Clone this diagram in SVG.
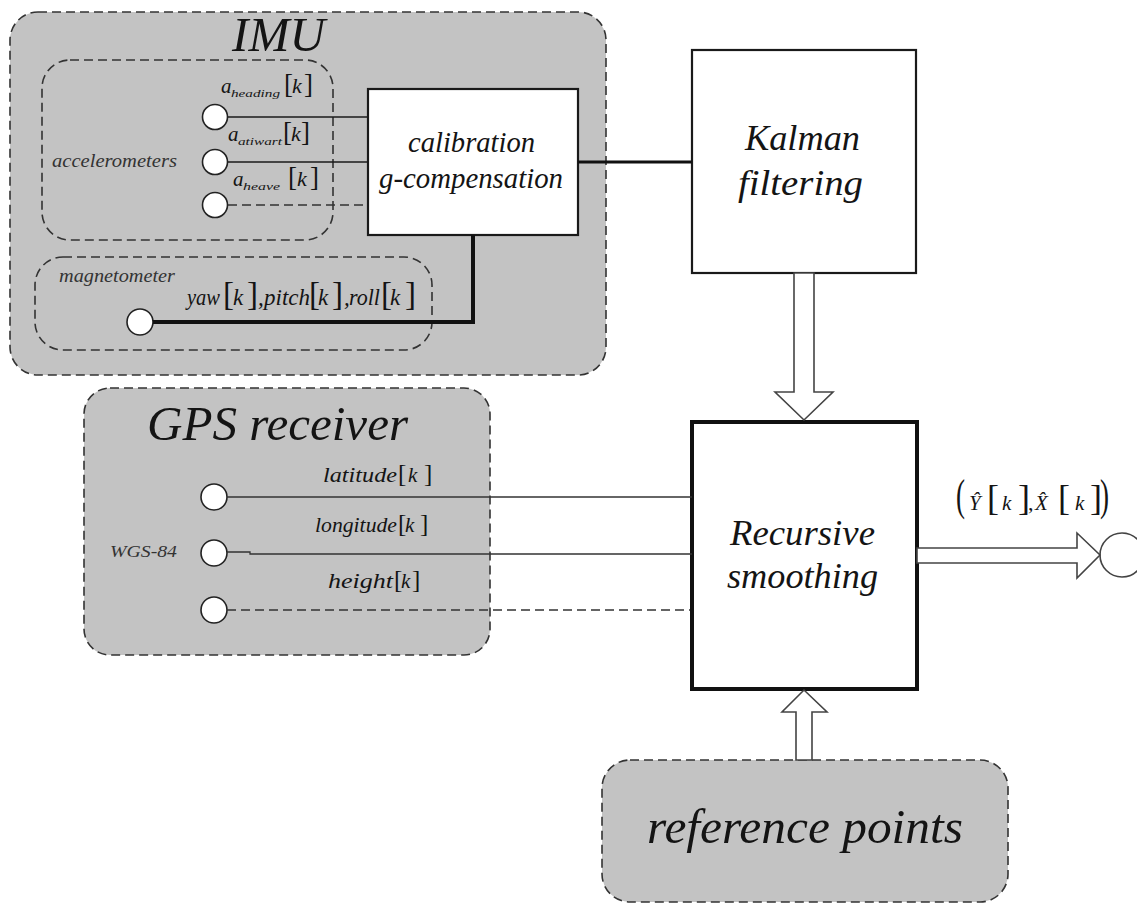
<svg xmlns="http://www.w3.org/2000/svg" width="1137" height="904" viewBox="0 0 1137 904" font-family="'Liberation Serif', 'Tinos', 'Times New Roman', 'DejaVu Serif', serif">
<style>
.grp{fill:#c3c3c3;stroke:#333;stroke-width:1.6;stroke-dasharray:9 5}
.box{fill:#fff;stroke:#1a1a1a;stroke-width:2.2}
.port{fill:#fff;stroke:#222;stroke-width:1.6}
text{font-family:'Liberation Serif','Tinos','Times New Roman','DejaVu Serif',serif;fill:#141414}
.s{fill:#333}
.ln{fill:none;stroke:#1a1a1a;stroke-width:1.6}
.dash{fill:none;stroke:#333;stroke-width:1.6;stroke-dasharray:9 5}
.hollow{fill:#fff;stroke:#444;stroke-width:1.6;stroke-linejoin:miter}
</style>
<rect width="1137" height="904" fill="#fff"/>

<g id="imu">
<rect class="grp" x="10" y="12" width="596" height="363" rx="28"/>
<text transform="translate(232,51)" font-style="italic" font-size="49" textLength="93" lengthAdjust="spacingAndGlyphs">IMU</text>
</g>

<g id="accelerometers">
<rect class="grp" x="42" y="60" width="291" height="180" rx="28"/>
<text class="s" transform="translate(52,167)" font-style="italic" font-size="18" textLength="125" lengthAdjust="spacingAndGlyphs">accelerometers</text>
<circle class="port" cx="215" cy="117" r="12.5"/>
<circle class="port" cx="215" cy="162" r="12.5"/>
<circle class="port" cx="215" cy="205" r="12.5"/>
<g transform="translate(0,93)">
<text font-style="italic" font-size="21"><tspan x="221">a</tspan><tspan x="231" dy="4" font-size="11" textLength="49" lengthAdjust="spacingAndGlyphs">heading</tspan><tspan x="292" dy="-4" font-size="22">k</tspan></text>
<text font-size="27" fill="#333"><tspan x="284">[</tspan><tspan x="304">]</tspan></text>
</g>
<g transform="translate(0,141)">
<text font-style="italic" font-size="21"><tspan x="228">a</tspan><tspan x="238" dy="4" font-size="11" textLength="44" lengthAdjust="spacingAndGlyphs">atiwart</tspan><tspan x="291" dy="-4" font-size="22">k</tspan></text>
<text font-size="27" fill="#333"><tspan x="283">[</tspan><tspan x="301">]</tspan></text>
</g>
<g transform="translate(0,186)">
<text font-style="italic" font-size="21"><tspan x="233">a</tspan><tspan x="243" dy="4" font-size="11" textLength="37" lengthAdjust="spacingAndGlyphs">heave</tspan><tspan x="297" dy="-4" font-size="22">k</tspan></text>
<text font-size="27" fill="#333"><tspan x="288">[</tspan><tspan x="310">]</tspan></text>
</g>
</g>

<g id="magnetometer">
<rect class="grp" x="35" y="257" width="397" height="93" rx="28"/>
<text class="s" transform="translate(59,282)" font-style="italic" font-size="18" textLength="116" lengthAdjust="spacingAndGlyphs">magnetometer</text>
<circle class="port" cx="140" cy="322" r="13"/>
<g transform="translate(0,305)">
<text font-style="italic" font-size="23"><tspan x="187" textLength="33" lengthAdjust="spacingAndGlyphs">yaw</tspan><tspan x="233">k</tspan><tspan x="258">,</tspan><tspan x="264" textLength="46" lengthAdjust="spacingAndGlyphs">pitch</tspan><tspan x="318">k</tspan><tspan x="344">,</tspan><tspan x="349" textLength="31" lengthAdjust="spacingAndGlyphs">roll</tspan><tspan x="390">k</tspan></text>
<text font-size="33" fill="#333"><tspan x="223">[</tspan><tspan x="247">]</tspan><tspan x="309">[</tspan><tspan x="332">]</tspan><tspan x="381">[</tspan><tspan x="405">]</tspan></text>
</g>
</g>

<g id="calibration">
<rect class="box" x="368" y="89" width="210" height="146"/>
<text transform="translate(408,152)" font-style="italic" font-size="29" textLength="127" lengthAdjust="spacingAndGlyphs">calibration</text>
<text transform="translate(379,188)" font-style="italic" font-size="29" textLength="184" lengthAdjust="spacingAndGlyphs">g-compensation</text>
</g>

<g id="kalman">
<rect class="box" x="692" y="50" width="224" height="223"/>
<text transform="translate(745,150)" font-style="italic" font-size="36" textLength="115" lengthAdjust="spacingAndGlyphs">Kalman</text>
<text transform="translate(738,195)" font-style="italic" font-size="36" textLength="125" lengthAdjust="spacingAndGlyphs">filtering</text>
</g>

<g id="gps">
<rect class="grp" x="84" y="388" width="406" height="267" rx="26"/>
<text transform="translate(147,440)" font-style="italic" font-size="49" textLength="261" lengthAdjust="spacingAndGlyphs">GPS receiver</text>
<text class="s" transform="translate(110,557)" font-style="italic" font-size="17" textLength="67" lengthAdjust="spacingAndGlyphs">WGS-84</text>
<circle class="port" cx="214" cy="497" r="13"/>
<circle class="port" cx="214" cy="553" r="13"/>
<circle class="port" cx="214" cy="610" r="13"/>
<g transform="translate(0,482)">
<text font-style="italic" font-size="21"><tspan x="323" textLength="74" lengthAdjust="spacingAndGlyphs">latitude</tspan><tspan x="408">k</tspan></text>
<text font-size="25" fill="#333"><tspan x="398">[</tspan><tspan x="424">]</tspan></text>
</g>
<g transform="translate(0,532)">
<text font-style="italic" font-size="21"><tspan x="315" textLength="82" lengthAdjust="spacingAndGlyphs">longitude</tspan><tspan x="405">k</tspan></text>
<text font-size="25" fill="#333"><tspan x="398">[</tspan><tspan x="420">]</tspan></text>
</g>
<g transform="translate(0,588)">
<text font-style="italic" font-size="21"><tspan x="328" textLength="65" lengthAdjust="spacingAndGlyphs">height</tspan><tspan x="401">k</tspan></text>
<text font-size="25" fill="#333"><tspan x="394">[</tspan><tspan x="412">]</tspan></text>
</g>
</g>

<g id="smoothing">
<rect x="692" y="422" width="225" height="267" fill="#fff" stroke="#111" stroke-width="4"/>
<text transform="translate(730,545)" font-style="italic" font-size="36" textLength="145" lengthAdjust="spacingAndGlyphs">Recursive</text>
<text transform="translate(727,588)" font-style="italic" font-size="36" textLength="151" lengthAdjust="spacingAndGlyphs">smoothing</text>
</g>

<g id="reference">
<rect class="grp" x="602" y="760" width="406" height="142" rx="28"/>
<text transform="translate(647,843)" font-style="italic" font-size="49" textLength="316" lengthAdjust="spacingAndGlyphs">reference points</text>
</g>

<g id="output">
<circle cx="1122" cy="555" r="22" fill="#fff" stroke="#444" stroke-width="1.6"/>
<g transform="translate(0,510)">
<text font-style="italic" font-size="21" fill="#1c2238"><tspan x="969">Ŷ</tspan><tspan x="1002">k</tspan><tspan x="1035">X̂</tspan><tspan x="1075">k</tspan></text>
<text font-size="36" fill="#1c2238"><tspan x="956" font-size="44" textLength="9" lengthAdjust="spacingAndGlyphs">(</tspan><tspan x="987">[</tspan><tspan x="1018">]</tspan><tspan x="1028" font-size="22">,</tspan><tspan x="1058">[</tspan><tspan x="1090">]</tspan><tspan x="1100" font-size="44" textLength="9" lengthAdjust="spacingAndGlyphs">)</tspan></text>
</g>
</g>

<g id="connectors">
<line class="ln" x1="228" y1="117" x2="368" y2="117"/>
<line class="ln" x1="228" y1="162" x2="368" y2="162"/>
<line class="dash" x1="228" y1="205" x2="368" y2="205"/>
<path d="M153 322 H473 V235" fill="none" stroke="#111" stroke-width="4"/>
<line x1="578" y1="162" x2="692" y2="162" stroke="#111" stroke-width="3"/>
<line x1="227" y1="497" x2="692" y2="497" stroke="#333" stroke-width="1.3"/>
<path d="M227 552 H250 V554 H692" fill="none" stroke="#333" stroke-width="1.3"/>
<line class="dash" x1="227" y1="610" x2="690" y2="610"/>
<polygon class="hollow" points="794,273 814,273 814,392 833,392 804,420 775,392 794,392"/>
<polygon class="hollow" points="796,760 812,760 812,712 827,712 804,690 782,712 796,712"/>
<polygon class="hollow" points="917,548 1077,548 1077,533 1100,555 1077,578 1077,563 917,563"/>
</g>
</svg>
